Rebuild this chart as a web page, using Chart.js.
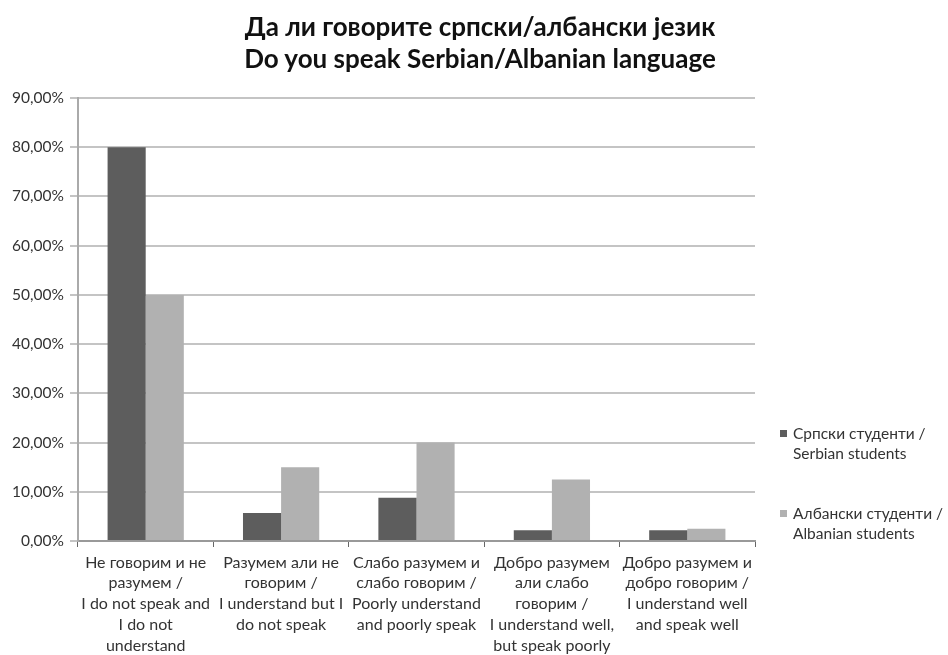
<!DOCTYPE html>
<html>
<head>
<meta charset="utf-8">
<script src="https://cdn.jsdelivr.net/npm/chart.js@4/dist/chart.umd.min.js"></script>
<style>
  html, body { margin: 0; padding: 0; background: #fff; }
  #wrap { position: relative; width: 948px; height: 655px; font-family: Lato, "Open Sans", sans-serif; }
  #title { position: absolute; left: 0; width: 960px; top: 10px; text-align: center; font-weight: bold; font-size: 26px; line-height: 32px; color: #111; }
  #legend { position: absolute; left: 780px; top: 423px; font-size: 15.5px; line-height: 20px; color: #333; }
  #legend .item { display: flex; align-items: flex-start; height: 80px; }
  #legend .sw { width: 7px; height: 7px; margin: 7px 6px 0 0; flex: none; }
</style>
</head>
<body>
<div id="wrap">
  <canvas id="chart" width="948" height="655"></canvas>
  <div id="title">Да ли говорите српски/албански језик<br>Do you speak Serbian/Albanian language</div>
  <div id="legend"></div>
</div>
<script>
const labels = [
  ["Не говорим и не", "разумем /", "I do not speak and", "I do not", "understand"],
  ["Разумем али не", "говорим /", "I understand but I", "do not speak"],
  ["Слабо разумем и", "слабо говорим /", "Poorly understand", "and poorly speak"],
  ["Добро разумем", "али слабо", "говорим /", "I understand well,", "but speak poorly"],
  ["Добро разумем и", "добро говорим /", "I understand well", "and speak well"]
];
const serbian = [80, 5.7, 8.8, 2.2, 2.2];
const albanian = [50, 15, 20, 12.5, 2.5];
const seriesNames = [["Српски студенти /", "Serbian students"], ["Албански студенти /", "Albanian students"]];
const colors = ['#5d5d5d', '#b1b1b1'];

const family = 'Lato, "Open Sans", sans-serif';
new Chart(document.getElementById('chart'), {
  type: 'bar',
  data: {
    labels,
    datasets: [
      { label: seriesNames[0].join(' '), data: serbian, backgroundColor: colors[0], categoryPercentage: 0.563, barPercentage: 1 },
      { label: seriesNames[1].join(' '), data: albanian, backgroundColor: colors[1], categoryPercentage: 0.563, barPercentage: 1 }
    ]
  },
  options: {
    responsive: false,
    animation: false,
    layout: { padding: { top: 98, right: 193, left: 0, bottom: 0 } },
    plugins: { legend: { display: false }, tooltip: { enabled: false } },
    scales: {
      x: {
        afterFit: s => { s.height = 114; },
        grid: { offset: true, drawOnChartArea: false, tickLength: 6, color: '#666' },
        border: { color: '#999', width: 2 },
        ticks: { color: '#333', font: { family, size: 16, lineHeight: 1.3 }, maxRotation: 0, autoSkip: false, padding: 5 }
      },
      y: {
        min: 0, max: 90,
        afterFit: s => { s.width = 78; },
        grid: { color: '#c4c4c4', lineWidth: 2, tickLength: 8 },
        border: { color: '#aaa', width: 2 },
        ticks: { stepSize: 10, color: '#333', font: { family, size: 15.5 }, padding: 6,
          callback: v => v.toFixed(2).replace('.', ',') + '%' }
      }
    }
  }
});

const legend = document.getElementById('legend');
seriesNames.forEach((name, i) => {
  const item = document.createElement('div');
  item.className = 'item';
  item.innerHTML = '<span class="sw" style="background:' + colors[i] + '"></span><span>' + name.join('<br>') + '</span>';
  legend.appendChild(item);
});
</script>
</body>
</html>
